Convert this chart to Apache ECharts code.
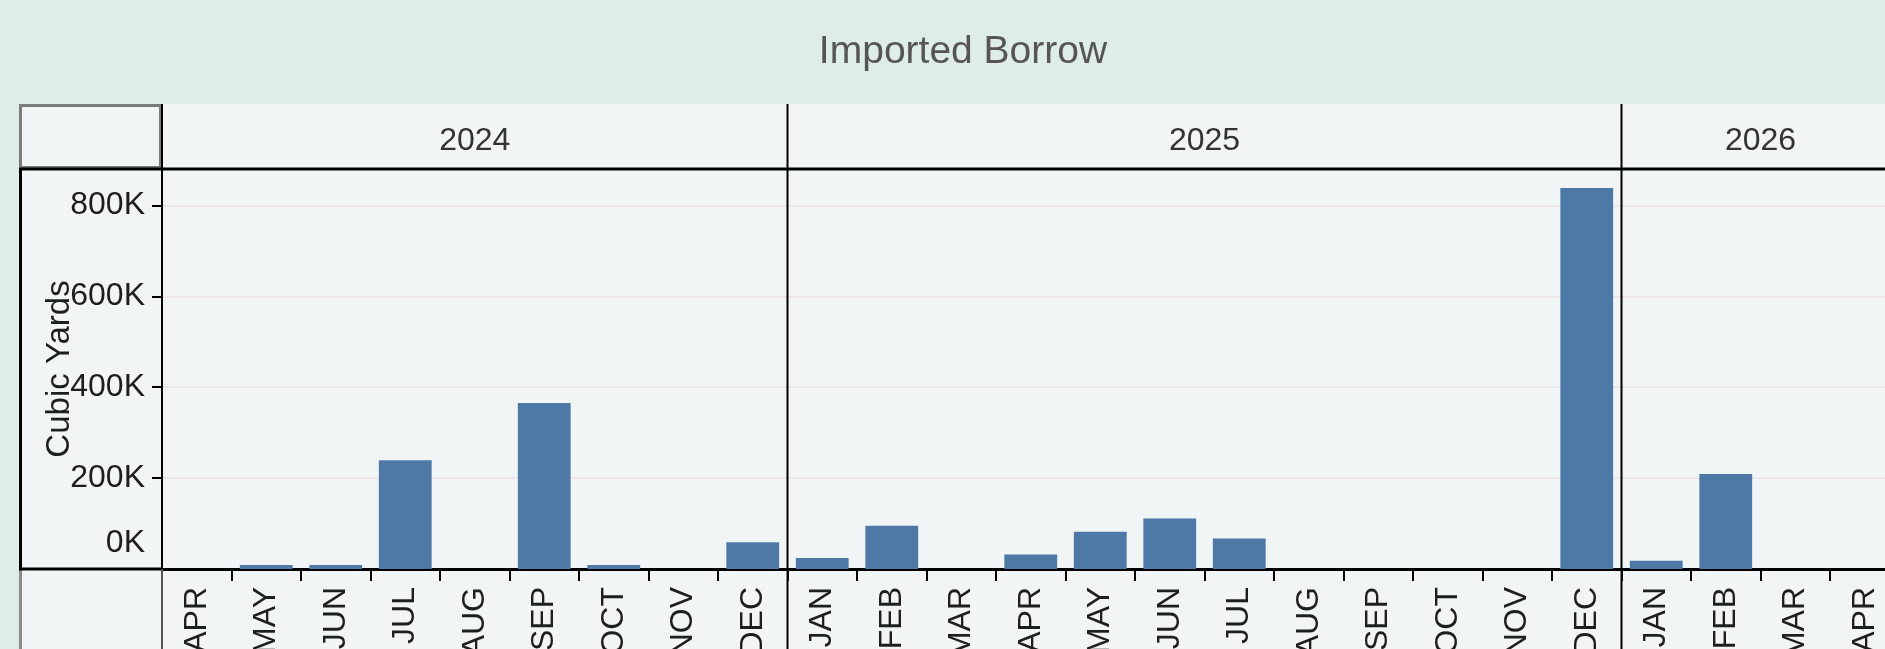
<!DOCTYPE html>
<html>
<head>
<meta charset="utf-8">
<title>Imported Borrow</title>
<script src="https://cdn.jsdelivr.net/npm/echarts@6/dist/echarts.min.js"></script>
<style>
  html, body { margin: 0; padding: 0; background: #dfede9; }
  #chart { width: 1885px; height: 649px; }
</style>
</head>
<body>
<div id="chart"></div>
<script>
// months shown in each year panel (2026 runs off the right edge)
var years = ['2024', '2025', '2026'];
var months2024 = ['APR', 'MAY', 'JUN', 'JUL', 'AUG', 'SEP', 'OCT', 'NOV', 'DEC'];
var months2025 = ['JAN', 'FEB', 'MAR', 'APR', 'MAY', 'JUN', 'JUL', 'AUG', 'SEP', 'OCT', 'NOV', 'DEC'];
var months2026 = ['JAN', 'FEB', 'MAR', 'APR'];

// cubic yards per month
var yards2024 = [0, 9000, 9000, 239000, 0, 365000, 9000, 0, 59000];
var yards2025 = [24000, 95000, 0, 32000, 82000, 111000, 67000, 0, 0, 0, 0, 838000];
var yards2026 = [18000, 209000, 0, 0];

var monthsByYear = [months2024, months2025, months2026];
var yardsByYear = [yards2024, yards2025, yards2026];

var myChart = echarts.init(document.getElementById('chart'));

var FONT = "'Liberation Sans', Arial, sans-serif";
var colW = 69.5;          // width of one month column
var plotTop = 169, plotBottom = 569;
var frameLeft = 19, axisX = 162, headTop = 104;

var grids = [], xAxes = [], yAxes = [], series = [];
var left = axisX;
var panelStarts = [];

years.forEach(function(year, i) {
  var months = monthsByYear[i];
  var w = months.length * colW;
  panelStarts.push(left);
  grids.push({
    left: left, top: plotTop, width: w, height: plotBottom - plotTop,
    outerBoundsMode: 'none', containLabel: false
  });

  // months along the bottom
  xAxes.push({
    type: 'category',
    gridIndex: i,
    position: 'bottom',
    data: months,
    axisLine: { lineStyle: { color: '#000', width: 3 } },
    axisTick: { show: true, length: 12, lineStyle: { color: '#000', width: 2 } },
    axisLabel: { rotate: 90, margin: 18, fontSize: 32, color: '#1e1e1e', fontFamily: FONT, interval: 0 }
  });
  // year header on top
  xAxes.push({
    type: 'category',
    gridIndex: i,
    position: 'top',
    data: [year],
    axisLine: { show: false },
    axisTick: { show: false },
    axisLabel: { margin: 12, fontSize: 32, color: '#333', fontFamily: FONT }
  });

  var first = i === 0;
  yAxes.push({
    type: 'value',
    gridIndex: i,
    min: 0,
    max: 880000,
    interval: 200000,
    name: first ? 'Cubic Yards' : '',
    nameLocation: 'middle',
    nameGap: 86,
    nameMoveOverlap: false,
    nameTextStyle: { fontSize: 33, color: '#1e1e1e', fontFamily: FONT },
    axisLine: { show: first, lineStyle: { color: '#000', width: 2 } },
    axisTick: { show: first, length: 10, lineStyle: { color: '#000', width: 2 } },
    axisLabel: {
      show: first,
      showMaxLabel: false,
      margin: 17,
      fontSize: 32,
      color: '#1e1e1e',
      fontFamily: FONT,
      formatter: function(v) {
        return v === 0 ? '{z|0K}' : (v / 1000) + 'K';
      },
      rich: {
        z: { fontSize: 32, color: '#1e1e1e', fontFamily: FONT, padding: [0, 0, 52, 0] }
      }
    },
    splitLine: { show: true, lineStyle: { color: '#ece7e6', width: 2 } }
  });

  series.push({
    type: 'bar',
    xAxisIndex: i * 2,
    yAxisIndex: i,
    data: yardsByYear[i],
    barCategoryGap: '24%',
    itemStyle: { color: '#4e79a7' },
    silent: true
  });

  left += w;
});

// frame, header box and year dividers
var graphics = [
  { type: 'rect', z: -10, shape: { x: frameLeft, y: headTop, width: 1885 - frameLeft, height: 649 - headTop },
    style: { fill: '#f1f5f6' } },
  { type: 'rect', z: 10, shape: { x: frameLeft + 1.5, y: headTop + 1.5, width: axisX - frameLeft - 3, height: plotTop - headTop - 3 },
    style: { fill: 'none', stroke: '#7b7b7b', lineWidth: 3 } },
  { type: 'line', z: 10, shape: { x1: frameLeft, y1: plotTop, x2: 1885, y2: plotTop },
    style: { stroke: '#000', lineWidth: 3 } },
  { type: 'line', z: 10, shape: { x1: frameLeft + 1.5, y1: plotTop, x2: frameLeft + 1.5, y2: plotBottom },
    style: { stroke: '#000', lineWidth: 3 } },
  { type: 'line', z: 10, shape: { x1: frameLeft + 1.5, y1: plotBottom, x2: frameLeft + 1.5, y2: 649 },
    style: { stroke: '#8a8a8a', lineWidth: 3 } },
  { type: 'line', z: 10, shape: { x1: frameLeft, y1: plotBottom, x2: axisX, y2: plotBottom },
    style: { stroke: '#000', lineWidth: 3 } },
  { type: 'line', z: 10, shape: { x1: axisX, y1: headTop, x2: axisX, y2: plotTop },
    style: { stroke: '#000', lineWidth: 2 } },
  { type: 'line', z: 10, shape: { x1: axisX, y1: plotBottom, x2: axisX, y2: 649 },
    style: { stroke: '#555', lineWidth: 2 } }
];
panelStarts.slice(1).forEach(function(x) {
  graphics.push({ type: 'line', z: 10, shape: { x1: x, y1: headTop, x2: x, y2: 649 },
    style: { stroke: '#000', lineWidth: 2 } });
});

myChart.setOption({
  backgroundColor: '#dfede9',
  animation: false,
  title: {
    text: 'Imported Borrow',
    left: 958,
    textAlign: 'center',
    top: 28,
    textStyle: { fontSize: 39, fontWeight: 'normal', color: '#555', fontFamily: FONT }
  },
  grid: grids,
  xAxis: xAxes,
  yAxis: yAxes,
  series: series,
  graphic: graphics
});
</script>
</body>
</html>
